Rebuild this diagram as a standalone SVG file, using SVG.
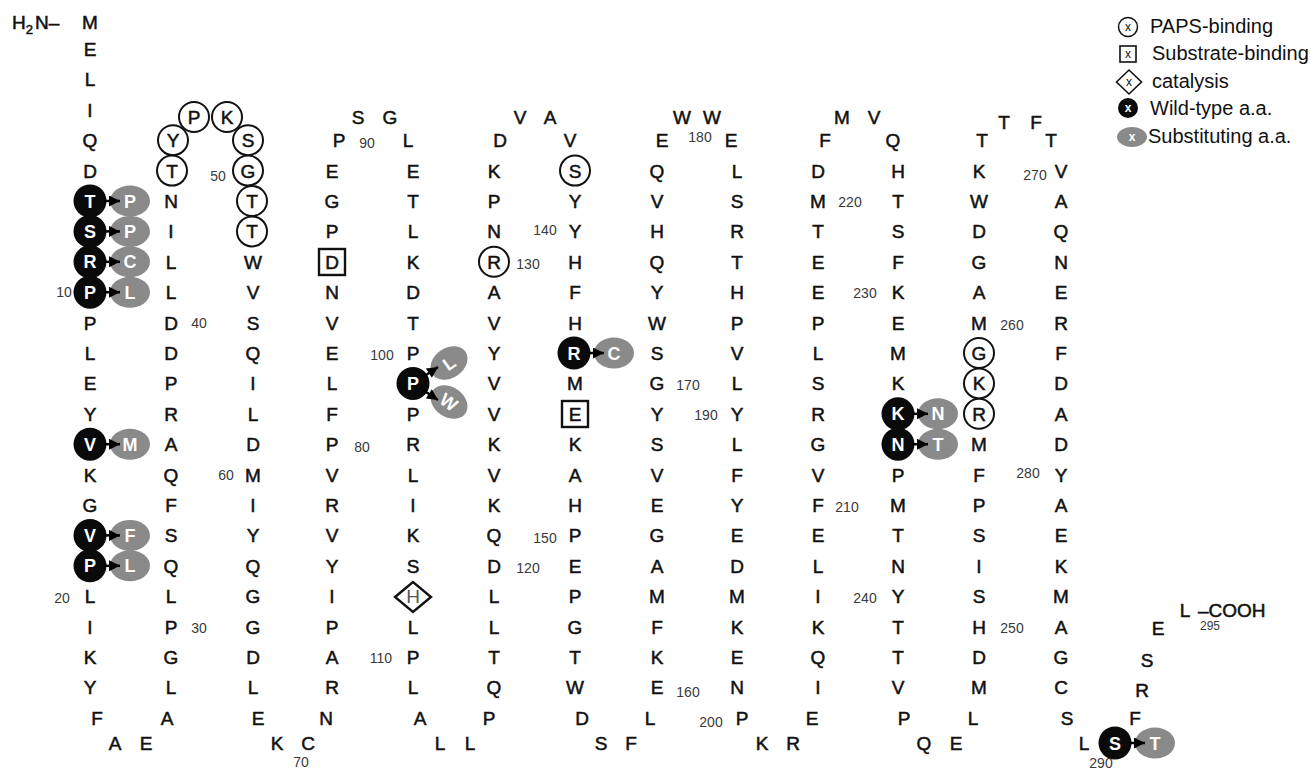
<svg xmlns="http://www.w3.org/2000/svg" width="1310" height="771" viewBox="0 0 1310 771">
<defs>
<style>
text{font-family:"Liberation Sans",Arial,sans-serif}
.a{font-size:19px;text-anchor:middle;fill:#111;stroke:#111;stroke-width:0.5px}
.w{font-size:18px;text-anchor:middle;fill:#fff;font-weight:bold}
.n{font-size:14px;text-anchor:middle;fill:#3a3a3a}
.lg{font-size:20px;fill:#111}
.pc{fill:#fff;stroke:#111;stroke-width:2}
.wt{fill:#0a0a0a}
.sb{fill:#8a8a8a}
.sq{fill:none;stroke:#111;stroke-width:2.4}
.ar{stroke:#000;stroke-width:2.5;fill:none;marker-end:url(#ah)}
.x{font-size:12px;text-anchor:middle;fill:#111}
.xw{font-size:12px;text-anchor:middle;fill:#fff;font-weight:bold}
</style>
<marker id="ah" viewBox="0 0 10 10" refX="10" refY="5" markerWidth="5" markerHeight="4.4" orient="auto"><path d="M0,0 L10,5 L0,10 z" fill="#000"/></marker>
</defs>
<rect width="1310" height="771" fill="#fff"/>

<g id="nterm"><text class="a" x="12" y="28.5" style="text-anchor:start">H<tspan font-size="13" dy="5">2</tspan><tspan dy="-5" dx="2">N–</tspan></text></g>

<g id="paps">
<circle class="pc" cx="173" cy="140.2" r="15"/><text class="a" x="173" y="147.2">Y</text>
<circle class="pc" cx="172" cy="170.6" r="15"/><text class="a" x="172" y="177.6">T</text>
<circle class="pc" cx="194" cy="117" r="15"/><text class="a" x="194" y="124">P</text>
<circle class="pc" cx="227" cy="117" r="15"/><text class="a" x="227" y="124">K</text>
<circle class="pc" cx="248" cy="140.2" r="15"/><text class="a" x="248" y="147.2">S</text>
<circle class="pc" cx="248" cy="170.6" r="15"/><text class="a" x="248" y="177.6">G</text>
<circle class="pc" cx="252" cy="201" r="15"/><text class="a" x="252" y="208">T</text>
<circle class="pc" cx="252" cy="231.4" r="15"/><text class="a" x="252" y="238.4">T</text>
<circle class="pc" cx="494" cy="261.8" r="15"/><text class="a" x="494" y="268.8">R</text>
<circle class="pc" cx="575" cy="170.6" r="15"/><text class="a" x="575" y="177.6">S</text>
<circle class="pc" cx="979" cy="353" r="15"/><text class="a" x="979" y="360">G</text>
<circle class="pc" cx="979" cy="383.4" r="15"/><text class="a" x="979" y="390.4">K</text>
<circle class="pc" cx="979" cy="413.8" r="15"/><text class="a" x="979" y="420.8">R</text>
</g>
<g id="substrate">
<rect class="sq" x="319" y="249" width="26" height="26"/><text class="a" x="332" y="268.8">D</text>
<rect class="sq" x="562" y="401" width="26" height="26"/><text class="a" x="575" y="420.8">E</text>
</g>
<g id="catalysis">
<polygon class="sq" points="395,597 413,582 431,597 413,612"/><text class="a" x="413" y="603.2" style="fill:#555;stroke:none">H</text>
</g>

<g id="seg1">
<text class="a" x="90" y="28.5">M</text><text class="a" x="90" y="56">E</text><text class="a" x="90" y="86.4">L</text><text class="a" x="90" y="116.8">I</text><text class="a" x="90" y="147.2">Q</text><text class="a" x="90" y="177.6">D</text>
<text class="a" x="90" y="329.6">P</text><text class="a" x="90" y="360">L</text><text class="a" x="90" y="390.4">E</text><text class="a" x="90" y="420.8">Y</text><text class="a" x="90" y="481.6">K</text><text class="a" x="90" y="512">G</text>
<text class="a" x="90" y="603.2">L</text><text class="a" x="90" y="633.6">I</text><text class="a" x="90" y="664">K</text><text class="a" x="90" y="694.4">Y</text>
<text class="a" x="97" y="724.8">F</text><text class="a" x="115" y="750">A</text><text class="a" x="146" y="750">E</text>
</g>
<g id="seg2">
<text class="a" x="171" y="208">N</text><text class="a" x="171" y="238.4">I</text><text class="a" x="171" y="268.8">L</text><text class="a" x="171" y="299.2">L</text><text class="a" x="171" y="329.6">D</text><text class="a" x="171" y="360">D</text><text class="a" x="171" y="390.4">P</text><text class="a" x="171" y="420.8">R</text><text class="a" x="171" y="451.2">A</text><text class="a" x="171" y="481.6">Q</text><text class="a" x="171" y="512">F</text><text class="a" x="171" y="542.4">S</text><text class="a" x="171" y="572.8">Q</text><text class="a" x="171" y="603.2">L</text><text class="a" x="171" y="633.6">P</text><text class="a" x="171" y="664">G</text><text class="a" x="171" y="694.4">L</text><text class="a" x="167" y="724.8">A</text>
</g>
<g id="seg3">
<text class="a" x="253" y="268.8">W</text><text class="a" x="253" y="299.2">V</text><text class="a" x="253" y="329.6">S</text><text class="a" x="253" y="360">Q</text><text class="a" x="253" y="390.4">I</text><text class="a" x="253" y="420.8">L</text><text class="a" x="253" y="451.2">D</text><text class="a" x="253" y="481.6">M</text><text class="a" x="253" y="512">I</text><text class="a" x="253" y="542.4">Y</text><text class="a" x="253" y="572.8">Q</text><text class="a" x="253" y="603.2">G</text><text class="a" x="253" y="633.6">G</text><text class="a" x="253" y="664">D</text><text class="a" x="253" y="694.4">L</text><text class="a" x="258" y="724.8">E</text>
<text class="a" x="277" y="750">K</text><text class="a" x="308" y="750">C</text>
</g>
<g id="seg4">
<text class="a" x="339" y="147.2">P</text><text class="a" x="332" y="177.6">E</text><text class="a" x="332" y="208">G</text><text class="a" x="332" y="238.4">P</text><text class="a" x="332" y="299.2">N</text><text class="a" x="332" y="329.6">V</text><text class="a" x="332" y="360">E</text><text class="a" x="332" y="390.4">L</text><text class="a" x="332" y="420.8">F</text><text class="a" x="332" y="451.2">P</text><text class="a" x="332" y="481.6">V</text><text class="a" x="332" y="512">R</text><text class="a" x="332" y="542.4">V</text><text class="a" x="332" y="572.8">Y</text><text class="a" x="332" y="603.2">I</text><text class="a" x="332" y="633.6">P</text><text class="a" x="332" y="664">A</text><text class="a" x="332" y="694.4">R</text><text class="a" x="326" y="724.8">N</text>
<text class="a" x="358" y="124">S</text><text class="a" x="390" y="124">G</text>
</g>
<g id="seg5">
<text class="a" x="408" y="147.2">L</text><text class="a" x="413" y="177.6">E</text><text class="a" x="413" y="208">T</text><text class="a" x="413" y="238.4">L</text><text class="a" x="413" y="268.8">K</text><text class="a" x="413" y="299.2">D</text><text class="a" x="413" y="329.6">T</text><text class="a" x="413" y="360">P</text><text class="a" x="413" y="420.8">P</text><text class="a" x="413" y="451.2">R</text><text class="a" x="413" y="481.6">L</text><text class="a" x="413" y="512">I</text><text class="a" x="413" y="542.4">K</text><text class="a" x="413" y="572.8">S</text><text class="a" x="413" y="633.6">L</text><text class="a" x="413" y="664">P</text><text class="a" x="413" y="694.4">L</text><text class="a" x="420" y="724.8">A</text>
<text class="a" x="440" y="750">L</text><text class="a" x="470" y="750">L</text>
</g>
<g id="seg6">
<text class="a" x="500" y="147.2">D</text><text class="a" x="494" y="177.6">K</text><text class="a" x="494" y="208">P</text><text class="a" x="494" y="238.4">N</text><text class="a" x="494" y="299.2">A</text><text class="a" x="494" y="329.6">V</text><text class="a" x="494" y="360">Y</text><text class="a" x="494" y="390.4">V</text><text class="a" x="494" y="420.8">V</text><text class="a" x="494" y="451.2">K</text><text class="a" x="494" y="481.6">V</text><text class="a" x="494" y="512">K</text><text class="a" x="494" y="542.4">Q</text><text class="a" x="494" y="572.8">D</text><text class="a" x="494" y="603.2">L</text><text class="a" x="494" y="633.6">L</text><text class="a" x="494" y="664">T</text><text class="a" x="494" y="694.4">Q</text><text class="a" x="489" y="724.8">P</text>
<text class="a" x="520" y="124">V</text><text class="a" x="550" y="124">A</text>
</g>
<g id="seg7">
<text class="a" x="570" y="147.2">V</text><text class="a" x="575" y="208">Y</text><text class="a" x="575" y="238.4">Y</text><text class="a" x="575" y="268.8">H</text><text class="a" x="575" y="299.2">F</text><text class="a" x="575" y="329.6">H</text><text class="a" x="575" y="390.4">M</text><text class="a" x="575" y="451.2">K</text><text class="a" x="575" y="481.6">A</text><text class="a" x="575" y="512">H</text><text class="a" x="575" y="542.4">P</text><text class="a" x="575" y="572.8">E</text><text class="a" x="575" y="603.2">P</text><text class="a" x="575" y="633.6">G</text><text class="a" x="575" y="664">T</text><text class="a" x="575" y="694.4">W</text><text class="a" x="582" y="724.8">D</text>
<text class="a" x="601" y="750">S</text><text class="a" x="631" y="750">F</text>
</g>
<g id="seg8">
<text class="a" x="662" y="147.2">E</text><text class="a" x="657" y="177.6">Q</text><text class="a" x="657" y="208">V</text><text class="a" x="657" y="238.4">H</text><text class="a" x="657" y="268.8">Q</text><text class="a" x="657" y="299.2">Y</text><text class="a" x="657" y="329.6">W</text><text class="a" x="657" y="360">S</text><text class="a" x="657" y="390.4">G</text><text class="a" x="657" y="420.8">Y</text><text class="a" x="657" y="451.2">S</text><text class="a" x="657" y="481.6">V</text><text class="a" x="657" y="512">E</text><text class="a" x="657" y="542.4">G</text><text class="a" x="657" y="572.8">A</text><text class="a" x="657" y="603.2">M</text><text class="a" x="657" y="633.6">F</text><text class="a" x="657" y="664">K</text><text class="a" x="657" y="694.4">E</text><text class="a" x="650" y="724.8">L</text>
<text class="a" x="682" y="124">W</text><text class="a" x="712" y="124">W</text>
</g>
<g id="seg9">
<text class="a" x="731" y="147.2">E</text><text class="a" x="737" y="177.6">L</text><text class="a" x="737" y="208">S</text><text class="a" x="737" y="238.4">R</text><text class="a" x="737" y="268.8">T</text><text class="a" x="737" y="299.2">H</text><text class="a" x="737" y="329.6">P</text><text class="a" x="737" y="360">V</text><text class="a" x="737" y="390.4">L</text><text class="a" x="737" y="420.8">Y</text><text class="a" x="737" y="451.2">L</text><text class="a" x="737" y="481.6">F</text><text class="a" x="737" y="512">Y</text><text class="a" x="737" y="542.4">E</text><text class="a" x="737" y="572.8">D</text><text class="a" x="737" y="603.2">M</text><text class="a" x="737" y="633.6">K</text><text class="a" x="737" y="664">E</text><text class="a" x="737" y="694.4">N</text><text class="a" x="742" y="724.8">P</text>
<text class="a" x="762" y="750">K</text><text class="a" x="793" y="750">R</text>
</g>
<g id="seg10">
<text class="a" x="825" y="147.2">F</text><text class="a" x="818" y="177.6">D</text><text class="a" x="818" y="208">M</text><text class="a" x="818" y="238.4">T</text><text class="a" x="818" y="268.8">E</text><text class="a" x="818" y="299.2">E</text><text class="a" x="818" y="329.6">P</text><text class="a" x="818" y="360">L</text><text class="a" x="818" y="390.4">S</text><text class="a" x="818" y="420.8">R</text><text class="a" x="818" y="451.2">G</text><text class="a" x="818" y="481.6">V</text><text class="a" x="818" y="512">F</text><text class="a" x="818" y="542.4">E</text><text class="a" x="818" y="572.8">L</text><text class="a" x="818" y="603.2">I</text><text class="a" x="818" y="633.6">K</text><text class="a" x="818" y="664">Q</text><text class="a" x="818" y="694.4">I</text><text class="a" x="812" y="724.8">E</text>
<text class="a" x="842" y="124">M</text><text class="a" x="874" y="124">V</text>
</g>
<g id="seg11">
<text class="a" x="893" y="147.2">Q</text><text class="a" x="898" y="177.6">H</text><text class="a" x="898" y="208">T</text><text class="a" x="898" y="238.4">S</text><text class="a" x="898" y="268.8">F</text><text class="a" x="898" y="299.2">K</text><text class="a" x="898" y="329.6">E</text><text class="a" x="898" y="360">M</text><text class="a" x="898" y="390.4">K</text><text class="a" x="898" y="481.6">P</text><text class="a" x="898" y="512">M</text><text class="a" x="898" y="542.4">T</text><text class="a" x="898" y="572.8">N</text><text class="a" x="898" y="603.2">Y</text><text class="a" x="898" y="633.6">T</text><text class="a" x="898" y="664">T</text><text class="a" x="898" y="694.4">V</text><text class="a" x="904" y="724.8">P</text>
<text class="a" x="924" y="750">Q</text><text class="a" x="956" y="750">E</text>
</g>
<g id="seg12">
<text class="a" x="982" y="147.2">T</text><text class="a" x="979" y="177.6">K</text><text class="a" x="979" y="208">W</text><text class="a" x="979" y="238.4">D</text><text class="a" x="979" y="268.8">G</text><text class="a" x="979" y="299.2">A</text><text class="a" x="979" y="329.6">M</text><text class="a" x="979" y="451.2">M</text><text class="a" x="979" y="481.6">F</text><text class="a" x="979" y="512">P</text><text class="a" x="979" y="542.4">S</text><text class="a" x="979" y="572.8">I</text><text class="a" x="979" y="603.2">S</text><text class="a" x="979" y="633.6">H</text><text class="a" x="979" y="664">D</text><text class="a" x="979" y="694.4">M</text><text class="a" x="973" y="724.8">L</text>
<text class="a" x="1004" y="129">T</text><text class="a" x="1036" y="129">F</text>
</g>
<g id="seg13">
<text class="a" x="1051" y="147.2">T</text><text class="a" x="1061" y="177.6">V</text><text class="a" x="1061" y="208">A</text><text class="a" x="1061" y="238.4">Q</text><text class="a" x="1061" y="268.8">N</text><text class="a" x="1061" y="299.2">E</text><text class="a" x="1061" y="329.6">R</text><text class="a" x="1061" y="360">F</text><text class="a" x="1061" y="390.4">D</text><text class="a" x="1061" y="420.8">A</text><text class="a" x="1061" y="451.2">D</text><text class="a" x="1061" y="481.6">Y</text><text class="a" x="1061" y="512">A</text><text class="a" x="1061" y="542.4">E</text><text class="a" x="1061" y="572.8">K</text><text class="a" x="1061" y="603.2">M</text><text class="a" x="1061" y="633.6">A</text><text class="a" x="1061" y="664">G</text><text class="a" x="1061" y="694.4">C</text><text class="a" x="1067" y="724.8">S</text>
</g>
<g id="cterm">
<text class="a" x="1084" y="750">L</text><text class="a" x="1135" y="724.8">F</text><text class="a" x="1142" y="697">R</text><text class="a" x="1147" y="667">S</text><text class="a" x="1158" y="635">E</text><text class="a" x="1185" y="617">L</text>
<text class="a" x="1198" y="617" style="text-anchor:start">–COOH</text>
</g>

<g id="mut7"><ellipse class="sb" cx="130" cy="201" rx="20" ry="15.5"/><circle class="wt" cx="90" cy="201" r="16.5"/><text class="w" x="90" y="207.5">T</text><text class="w" x="130" y="207.5">P</text></g>
<g id="mut8"><ellipse class="sb" cx="130" cy="231.4" rx="20" ry="15.5"/><circle class="wt" cx="90" cy="231.4" r="16.5"/><text class="w" x="90" y="237.9">S</text><text class="w" x="130" y="237.9">P</text></g>
<g id="mut9"><ellipse class="sb" cx="130" cy="261.8" rx="20" ry="15.5"/><circle class="wt" cx="90" cy="261.8" r="16.5"/><text class="w" x="90" y="268.3">R</text><text class="w" x="130" y="268.3">C</text></g>
<g id="mut10"><ellipse class="sb" cx="130" cy="292.2" rx="20" ry="15.5"/><circle class="wt" cx="90" cy="292.2" r="16.5"/><text class="w" x="90" y="298.7">P</text><text class="w" x="130" y="298.7">L</text></g>
<g id="mut15"><ellipse class="sb" cx="130" cy="444.2" rx="20" ry="15.5"/><circle class="wt" cx="90" cy="444.2" r="16.5"/><text class="w" x="90" y="450.7">V</text><text class="w" x="130" y="450.7">M</text></g>
<g id="mut18"><ellipse class="sb" cx="130" cy="535.4" rx="20" ry="15.5"/><circle class="wt" cx="90" cy="535.4" r="16.5"/><text class="w" x="90" y="541.9">V</text><text class="w" x="130" y="541.9">F</text></g>
<g id="mut19"><ellipse class="sb" cx="130" cy="565.8" rx="20" ry="15.5"/><circle class="wt" cx="90" cy="565.8" r="16.5"/><text class="w" x="90" y="572.3">P</text><text class="w" x="130" y="572.3">L</text></g>
<g id="mut101"><ellipse class="sb" cx="449" cy="363" rx="20" ry="15" transform="rotate(-35 449 363)"/><ellipse class="sb" cx="449" cy="402" rx="20" ry="15" transform="rotate(35 449 402)"/><circle class="wt" cx="413" cy="383.4" r="16.5"/><text class="w" x="413" y="389.9">P</text><text class="w" x="449" y="369.5" transform="rotate(-35 449 363)">L</text><text class="w" x="449" y="408.5" transform="rotate(35 449 402)">W</text></g>
<g id="mut144"><ellipse class="sb" cx="614" cy="353" rx="20" ry="15.5"/><circle class="wt" cx="574" cy="353" r="16.5"/><text class="w" x="574" y="359.5">R</text><text class="w" x="614" y="359.5">C</text></g>
<g id="mut234"><ellipse class="sb" cx="938" cy="413.8" rx="20" ry="15.5"/><circle class="wt" cx="898" cy="413.8" r="16.5"/><text class="w" x="898" y="420.3">K</text><text class="w" x="938" y="420.3">N</text></g>
<g id="mut235"><ellipse class="sb" cx="938" cy="444.2" rx="20" ry="15.5"/><circle class="wt" cx="898" cy="444.2" r="16.5"/><text class="w" x="898" y="450.7">N</text><text class="w" x="938" y="450.7">T</text></g>
<g id="mut290"><ellipse class="sb" cx="1155" cy="743" rx="20" ry="15.5"/><circle class="wt" cx="1115" cy="743" r="16.5"/><text class="w" x="1115" y="749.5">S</text><text class="w" x="1155" y="749.5">T</text></g>

<g id="connectors">
<line class="ar" x1="104" y1="201" x2="120" y2="201"/>
<line class="ar" x1="104" y1="231.4" x2="120" y2="231.4"/>
<line class="ar" x1="104" y1="261.8" x2="120" y2="261.8"/>
<line class="ar" x1="104" y1="292.2" x2="120" y2="292.2"/>
<line class="ar" x1="104" y1="444.2" x2="120" y2="444.2"/>
<line class="ar" x1="104" y1="535.4" x2="120" y2="535.4"/>
<line class="ar" x1="104" y1="565.8" x2="120" y2="565.8"/>
<line class="ar" x1="423" y1="377" x2="438" y2="367"/>
<line class="ar" x1="423" y1="390" x2="438" y2="400"/>
<line class="ar" x1="588" y1="353" x2="604" y2="353"/>
<line class="ar" x1="912" y1="413.8" x2="928" y2="413.8"/>
<line class="ar" x1="912" y1="444.2" x2="928" y2="444.2"/>
<line class="ar" x1="1129" y1="743" x2="1145" y2="743"/>
</g>

<g id="numbers">
<text class="n" x="64" y="297">10</text>
<text class="n" x="62" y="603">20</text>
<text class="n" x="199" y="633">30</text>
<text class="n" x="199" y="328">40</text>
<text class="n" x="218" y="181">50</text>
<text class="n" x="226" y="480">60</text>
<text class="n" x="301" y="767">70</text>
<text class="n" x="362" y="452">80</text>
<text class="n" x="367" y="148">90</text>
<text class="n" x="382" y="360">100</text>
<text class="n" x="381" y="663">110</text>
<text class="n" x="528" y="573">120</text>
<text class="n" x="528" y="269">130</text>
<text class="n" x="545" y="235">140</text>
<text class="n" x="545" y="543">150</text>
<text class="n" x="688" y="697">160</text>
<text class="n" x="688" y="390">170</text>
<text class="n" x="700" y="142">180</text>
<text class="n" x="706" y="420">190</text>
<text class="n" x="711" y="727">200</text>
<text class="n" x="847" y="512">210</text>
<text class="n" x="850" y="207">220</text>
<text class="n" x="865" y="298">230</text>
<text class="n" x="865" y="603">240</text>
<text class="n" x="1012" y="633">250</text>
<text class="n" x="1012" y="330">260</text>
<text class="n" x="1035" y="180">270</text>
<text class="n" x="1028" y="478">280</text>
<text class="n" x="1101" y="768">290</text>
<text class="n" x="1210" y="630" style="font-size:12px">295</text>
</g>

<g id="legend">
<circle class="pc" cx="1128" cy="27" r="9.5" style="stroke-width:1.5"/><text class="x" x="1128" y="31">x</text>
<text class="lg" x="1150" y="33">PAPS-binding</text>
<rect x="1120" y="46" width="16" height="16" fill="none" stroke="#111" stroke-width="1.6"/><text class="x" x="1128" y="58">x</text>
<text class="lg" x="1152" y="60">Substrate-binding</text>
<polygon points="1116.5,82 1129,70 1141.5,82 1129,94" fill="none" stroke="#111" stroke-width="1.6"/><text class="x" x="1129" y="86">x</text>
<text class="lg" x="1152" y="88">catalysis</text>
<circle class="wt" cx="1128" cy="108" r="10"/><text class="xw" x="1128" y="112">x</text>
<text class="lg" x="1150" y="115">Wild-type a.a.</text>
<ellipse class="sb" cx="1132" cy="137" rx="15" ry="10"/><text class="xw" x="1132" y="141">x</text>
<text class="lg" x="1148" y="143">Substituting a.a.</text>
</g>
</svg>
